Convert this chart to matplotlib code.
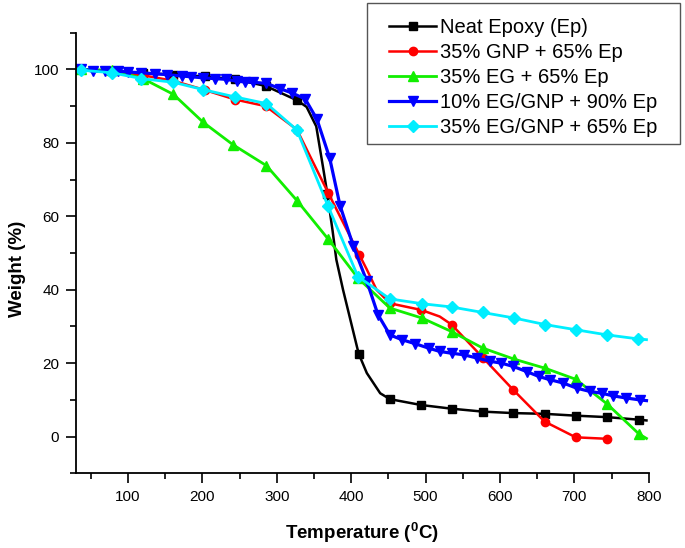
import matplotlib
matplotlib.use("Agg")
import matplotlib.pyplot as plt
from matplotlib.ticker import MultipleLocator
from matplotlib.patches import Rectangle

plt.rcParams['font.family'] = ['Liberation Sans', 'DejaVu Sans']
plt.rcParams['mathtext.fontset'] = 'custom'
plt.rcParams['mathtext.rm'] = 'Liberation Sans'
plt.rcParams['mathtext.bf'] = 'Liberation Sans:bold'

# ---- data ----
labels = ["Neat Epoxy (Ep)", "35% GNP + 65% Ep", "35% EG + 65% Ep",
          "10% EG/GNP + 90% Ep", "35% EG/GNP + 65% Ep"]

# Neat epoxy: marked points + extra points
T_ep = [36, 78, 120, 161, 203, 244, 285, 327, 368, 410, 452, 494, 535, 577, 618, 660, 702, 744, 787]
W_ep = [100, 99.6, 99.0, 98.6, 98.1, 97.3, 95.5, 91.6, 66, 22.6, 10.2, 8.6, 7.6, 6.8, 6.4, 6.2, 5.7, 5.3, 4.6]
T_ep_line = [340, 353, 362, 375, 380, 389, 421, 439, 797]
W_ep_line = [89.8, 84.5, 73.5, 56, 48.2, 40, 17.3, 11.8, 4.4]

T_gnp = [36, 78, 120, 161, 203, 244, 285, 327, 369, 411, 452, 494, 535, 577, 618, 660, 702, 744]
W_gnp = [100, 99.3, 98.4, 96.9, 94.4, 91.8, 90.0, 83.6, 66.4, 49.5, 36.3, 34.5, 30.5, 21.5, 12.7, 4.1, -0.2, -0.6]
T_gnp_line = [421, 434, 519]
W_gnp_line = [45.5, 40.0, 32.7]

T_eg = [37, 78, 120, 161, 201, 241, 286, 327, 369, 409, 452, 495, 535, 577, 619, 661, 702, 744, 787]
W_eg = [100, 99.8, 97.5, 93.2, 85.6, 79.5, 73.8, 64.3, 53.8, 43.2, 35.0, 32.3, 28.6, 24.1, 21.1, 18.6, 15.6, 8.9, 0.7]
T_eg_line = [797]
W_eg_line = [-0.5]

T_mix10 = [37, 53, 69, 87, 100, 118, 136, 152, 172, 185, 201, 217, 232, 246, 257, 268, 286, 304,
           320, 338, 354, 371, 385, 403, 421, 436, 452, 468, 486, 504, 519, 535, 551, 569, 587,
           602, 618, 636, 652, 667, 685, 703, 721, 737, 752, 770, 788]
W_mix10 = [100.2, 99.5, 99.5, 99.5, 99.3, 99.1, 98.8, 98.6, 98.2, 98.0, 97.7, 97.5, 97.3, 96.8, 96.6,
           96.5, 96.2, 94.8, 93.6, 92.0, 86.4, 75.9, 62.9, 51.8, 42.3, 33.2, 27.7, 26.4, 25.3, 24.1,
           23.2, 22.7, 22.3, 21.4, 20.5, 20.0, 19.1, 17.7, 16.4, 15.5, 14.6, 13.2, 12.3, 11.8, 11.1,
           10.5, 10.0]
T_mix10_line = [797]
W_mix10_line = [9.8]

T_mix35 = [37, 78, 118, 161, 201, 244, 286, 327, 369, 409, 452, 495, 535, 577, 619, 661, 702, 744, 786]
W_mix35 = [99.8, 99.1, 97.5, 96.5, 94.5, 92.5, 90.7, 83.5, 62.7, 43.6, 37.5, 36.2, 35.3, 33.8, 32.3, 30.5, 29.1, 27.7, 26.6]
T_mix35_line = [797]
W_mix35_line = [26.4]

series = [
    (T_ep, W_ep, T_ep_line, W_ep_line, 'black', 's', 5.5, 1.8),
    (T_gnp, W_gnp, T_gnp_line, W_gnp_line, '#ff0000', 'o', 6.0, 1.8),
    (T_eg, W_eg, T_eg_line, W_eg_line, '#11ee00', '^', 7.0, 2.0),
    (T_mix10, W_mix10, T_mix10_line, W_mix10_line, '#0000ff', 'v', 7.0, 2.3),
    (T_mix35, W_mix35, T_mix35_line, W_mix35_line, '#00eeff', 'D', 6.0, 2.0),
]

W_PX, H_PX = 685, 548
fig = plt.figure(figsize=(W_PX / 100, H_PX / 100), dpi=100)
ax = fig.add_axes([0.111, 0.1363, 0.836, 0.804])

for (tm, wm, tl, wl, c, mk, ms, lw), lab in zip(series, labels):
    pts = [(t, w, True) for t, w in zip(tm, wm)] + [(t, w, False) for t, w in zip(tl, wl)]
    pts.sort(key=lambda p: p[0])
    xs = [p[0] for p in pts]
    ys = [p[1] for p in pts]
    me = [i for i, p in enumerate(pts) if p[2]]
    ax.plot(xs, ys, color=c, lw=lw, marker=mk, ms=ms, markevery=me,
            mfc=c, mec=c, label=lab)

ax.set_xlim(30, 800)
ax.set_ylim(-10, 110)
ax.xaxis.set_major_locator(MultipleLocator(100))
ax.xaxis.set_minor_locator(MultipleLocator(50))
ax.yaxis.set_major_locator(MultipleLocator(20))
ax.yaxis.set_minor_locator(MultipleLocator(10))
ax.set_xticks(range(100, 801, 100))
ax.tick_params(which='major', direction='out', length=7, width=1.2, labelsize=11, pad=5)
ax.tick_params(which='minor', direction='out', length=4, width=1.2)
for s in ['top', 'right']:
    ax.spines[s].set_visible(False)
for s in ['left', 'bottom']:
    ax.spines[s].set_linewidth(1.3)

ax.set_xlabel(r'Temperature ($\mathbf{^{0}}$C)', fontsize=13.5, fontweight='bold', labelpad=12)
ax.set_ylabel('Weight (%)', fontsize=13.5, fontweight='bold')
ax.yaxis.set_label_coords(-0.087, 0.465)

# legend frame drawn separately so the inner margins match the reference
fig.patches.append(Rectangle((366.7 / W_PX, 1 - 144 / H_PX), (680 - 366.7) / W_PX, (144 - 3.3) / H_PX,
                             transform=fig.transFigure, facecolor='white', edgecolor='#555555',
                             linewidth=1.0, zorder=5))
leg = fig.legend(loc='upper left', bbox_to_anchor=(389 / W_PX, 1 - 18 / H_PX),
                 bbox_transform=fig.transFigure, frameon=False,
                 fontsize=14.5, handlelength=2.35, handletextpad=0.2,
                 borderpad=0.0, labelspacing=0.3, borderaxespad=0)
leg.set_zorder(6)

fig.savefig('out.png', dpi=100)
